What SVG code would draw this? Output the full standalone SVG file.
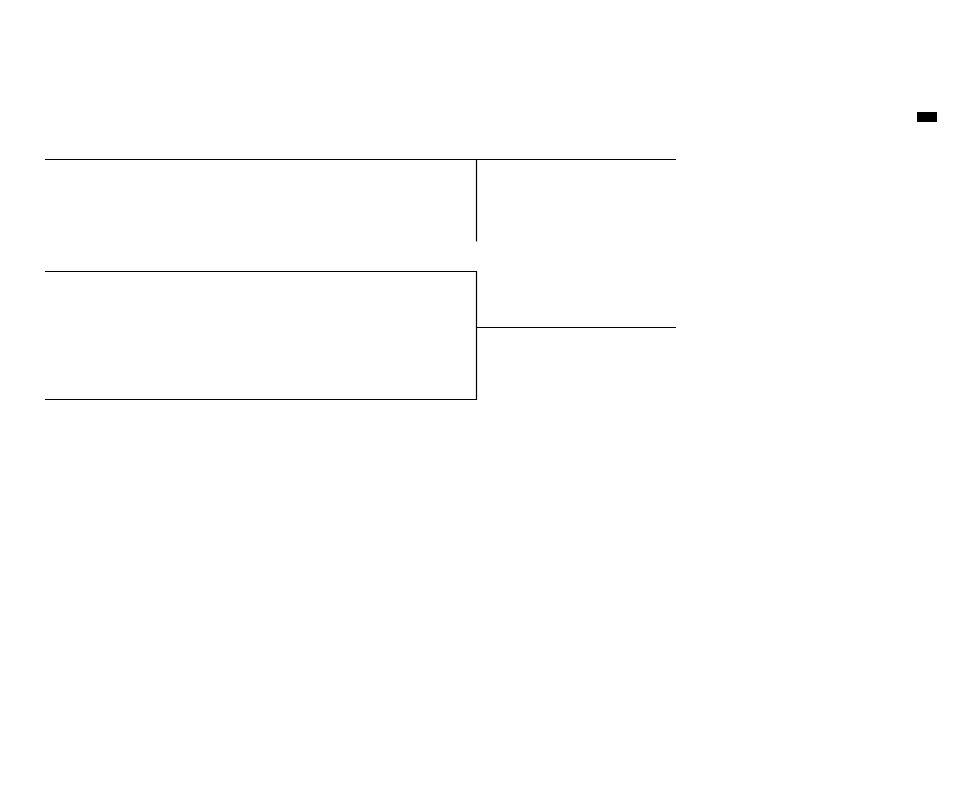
<svg xmlns="http://www.w3.org/2000/svg" width="954" height="808" viewBox="0 0 954 808">
<style>.ln{stroke:#000;stroke-width:1.2;fill:none}</style>
<rect width="954" height="808" fill="#fff"/>
<g id="marker-box"><rect x="917" y="112" width="20" height="10" fill="#000"/></g>
<g id="connectors">
<path class="ln" d="M45 159.5H676M476.5 159.5V241.5"/>
<path class="ln" d="M45 271.5H476.5V399.5H45M476.5 327.5H676"/>
</g>
</svg>
